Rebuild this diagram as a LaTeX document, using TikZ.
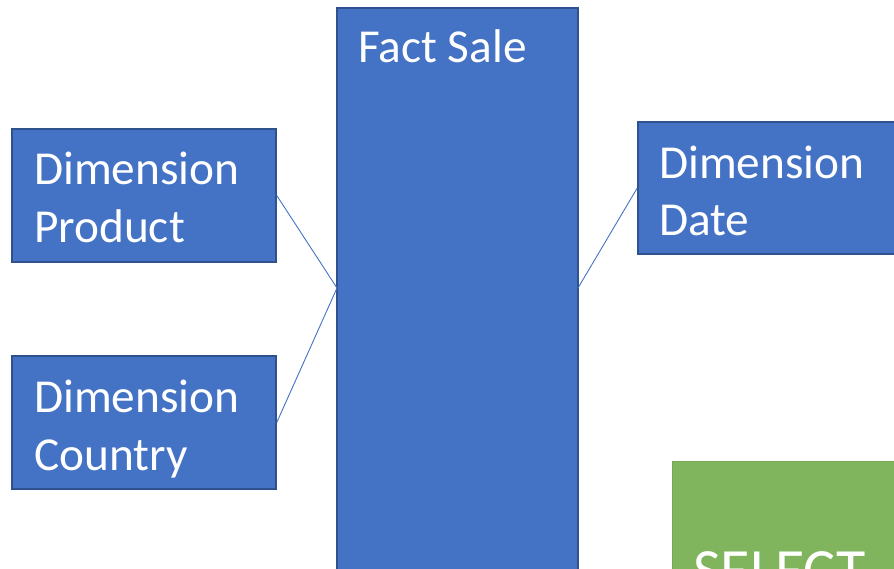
\documentclass[tikz,border=0pt]{standalone}
\usepackage{fontspec}
\setmainfont{Carlito}
\definecolor{boxblue}{HTML}{4472C4}
\definecolor{boxedge}{HTML}{2F528F}
\definecolor{boxgreen}{HTML}{80B55E}
\definecolor{greenedge}{HTML}{74A856}
\tikzset{
  dimbox/.style={draw=boxedge, fill=boxblue, line width=1.5pt, inner sep=0pt, minimum width=264pt, minimum height=133pt},
  txt/.style={text=white, inner sep=0pt, anchor=base west, font=\fontsize{47.3}{56}\selectfont},
  link/.style={draw=boxblue, line width=0.9pt}
}
\begin{document}
\begin{tikzpicture}[x=1pt,y=1pt]
\useasboundingbox (0,0) rectangle (894,568);
\clip (0,0) rectangle (894,568);
\node[dimbox, minimum width=241pt, minimum height=600pt] (fact) at (457.5,260) {};
\node[dimbox] (prod) at (144,372.5) {};
\node[dimbox] (country) at (144,145.5) {};
\node[dimbox, minimum width=272pt, minimum height=132pt] (date) at (774,380) {};
\node[draw=greenedge, fill=boxgreen, line width=1pt, minimum width=260pt, minimum height=200pt, inner sep=0pt] (sel) at (802,7) {};
\node[txt] (tfact) at (358,505) {Fact Sale};
\node[txt] (tp1) at (34,383) {Dimension};
\node[txt] (tp2) at (34,325) {Product};
\node[txt] (tc1) at (34,156) {Dimension};
\node[txt] (tc2) at (34,98) {Country};
\node[txt] (td1) at (659,389) {Dimension};
\node[txt] (td2) at (659,332) {Date};
\node[txt, font=\fontsize{60}{70}\selectfont] (tsel) at (693,-22) {SELECT};
\coordinate (fl) at (337,280);
\coordinate (fr) at (578,280);
\draw[link] (prod.east) -- (fl);
\draw[link] (country.east) -- (fl);
\draw[link] (fr) -- (date.west);
\end{tikzpicture}
\end{document}
